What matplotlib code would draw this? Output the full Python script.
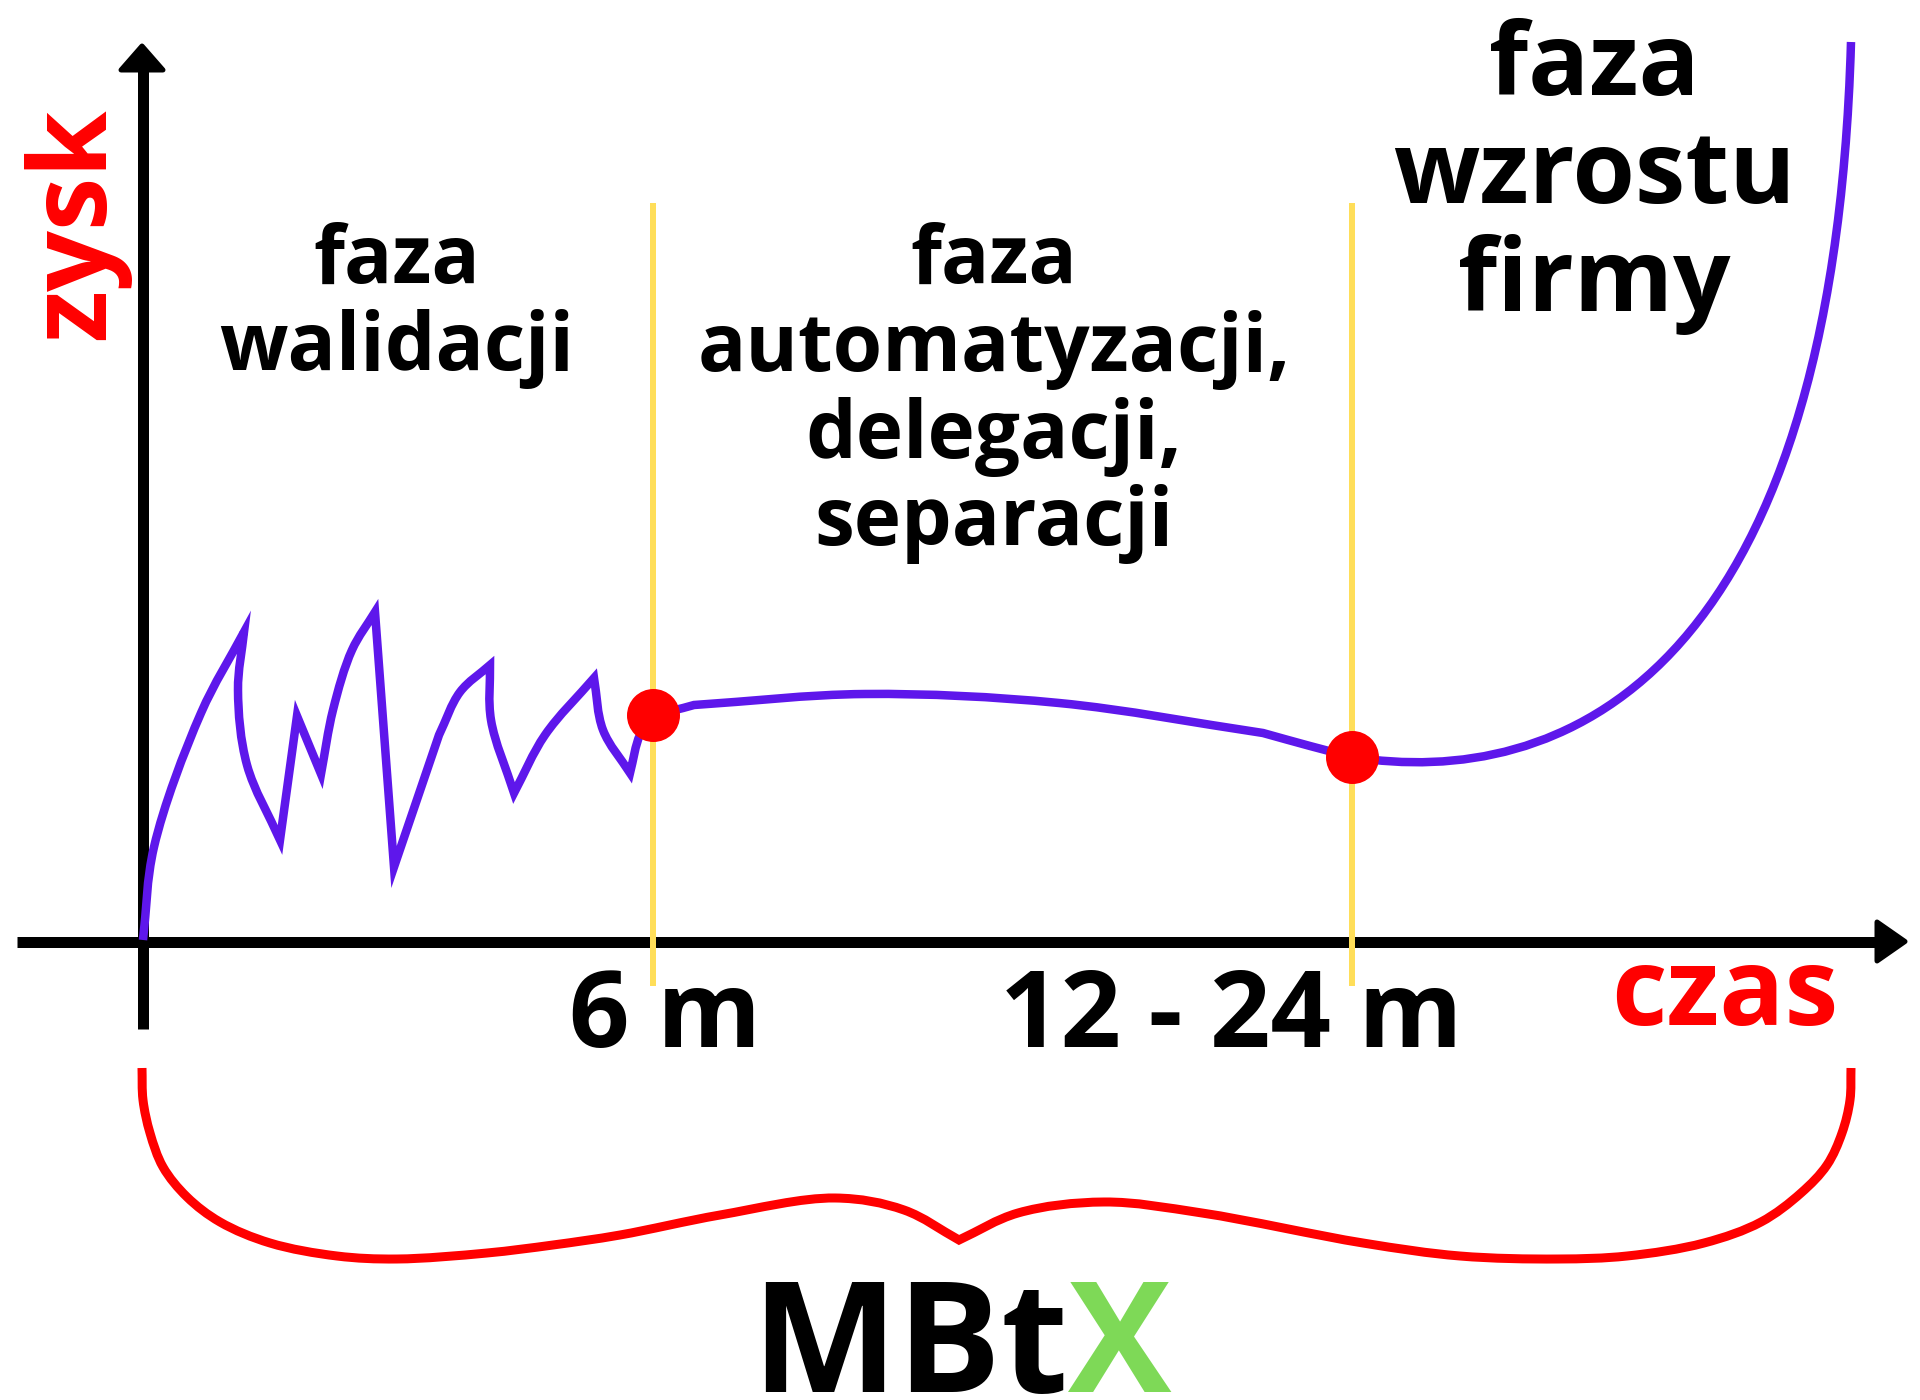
import numpy as np
import matplotlib.pyplot as plt
from matplotlib.path import Path
from matplotlib.patches import PathPatch, Polygon

plt.rcParams['font.family'] = ['Open Sans', 'DejaVu Sans']

# everything in pixel coords of the 1920x1400 canvas (y grows downward)
# profit curve, split where the line has sharp corners;
# lists go through the points, ('bezier', ...) pieces are start, 2 handles, end
profit_pieces = [
    [(143, 940), (154, 847), (201, 713), (244, 632)],
    [(244, 632), (238, 690), (247, 765), (280, 840)],
    [(280, 840), (297, 716)],
    [(297, 716), (321, 774)],
    [(321, 774), (333, 710), (352, 650), (375, 612)],
    [(375, 612), (394, 867)],
    [(394, 867), (439, 735)],
    [(439, 735), (460, 692), (490, 665)],
    [(490, 665), (491, 720), (514, 793)],
    [(514, 793), (545, 735), (594, 678)],
    [(594, 678), (603, 730), (630, 773)],
    [(630, 773), (640, 735), (653, 718), (694, 705)],
    [(694, 705), (865, 694), (1059, 703), (1263, 733)],
    [(1263, 733), (1310, 746), (1352, 757)],
    ('bezier', [(1352, 757), (1560, 790), (1833, 680), (1851, 42)]),
]

milestone_x = [653, 1352]
milestone_y = [715, 757]
phase_top, phase_bottom = 206, 983

brace_pieces = [
    [(142, 1068), (143, 1100), (150, 1133), (163, 1167), (187, 1197), (220, 1222),
     (270, 1243), (337, 1256), (397, 1259), (487, 1253), (553, 1245), (620, 1235),
     (720, 1215), (835, 1198), (904, 1210), (959, 1240)],
    [(959, 1240), (1018, 1213), (1104, 1202), (1202, 1213), (1363, 1243), (1460, 1256),
     (1558, 1259), (1627, 1256), (1704, 1243), (1761, 1222), (1801, 1193), (1827, 1165),
     (1842, 1133), (1850, 1100), (1851, 1068)],
]

# text blocks: lines, centre x, baselines, size in px
phase_labels = [
    (["faza", "walidacji"], 397, [283, 370], 80),
    (["faza", "automatyzacji,", "delegacji,", "separacji"], 994, [283, 370.5, 458, 545], 80),
    (["faza", "wzrostu", "firmy"], 1594, [95, 203, 311], 101),
]
tick_labels = ["6 m", "12 - 24 m"]
tick_x = [665, 1231]

BLUE = '#5e17eb'
RED = '#ff0000'
YELLOW = '#ffde59'
GREEN = '#7ed957'
PX = 0.72  # points per pixel at dpi 100


def catmull(points, alpha=0.5):
    # centripetal catmull-rom through the points, as cubic bezier path pieces
    p = np.array(points, float)
    ext = np.vstack([2 * p[0] - p[1], p, 2 * p[-1] - p[-2]])
    verts, codes = [p[0]], [Path.MOVETO]
    for i in range(1, len(ext) - 2):
        p0, p1, p2, p3 = ext[i - 1], ext[i], ext[i + 1], ext[i + 2]
        d0 = np.linalg.norm(p1 - p0) ** alpha
        d1 = np.linalg.norm(p2 - p1) ** alpha
        d2 = np.linalg.norm(p3 - p2) ** alpha
        m1 = (p1 - p0) / d0 - (p2 - p0) / (d0 + d1) + (p2 - p1) / d1
        m2 = (p2 - p1) / d1 - (p3 - p1) / (d1 + d2) + (p3 - p2) / d2
        verts += [p1 + m1 * d1 / 3, p2 - m2 * d1 / 3, p2]
        codes += [Path.CURVE4] * 3
    return verts, codes


def join(pieces):
    verts, codes = [], []
    for k, pc in enumerate(pieces):
        if isinstance(pc, tuple):
            v = [np.array(q, float) for q in pc[1]]
            c = [Path.MOVETO] + [Path.CURVE4] * 3
        else:
            v, c = catmull(pc)
        if k > 0:
            v, c = v[1:], c[1:]
        verts += v
        codes += c
    return Path(np.array(verts), codes)


fig = plt.figure(figsize=(19.2, 14), dpi=100)
ax = fig.add_axes([0, 0, 1, 1])
ax.set_xlim(0, 1920)
ax.set_ylim(1400, 0)
ax.axis('off')

# axes with arrows
ax.plot([143, 143], [1029, 70], color='black', lw=11 * PX, solid_capstyle='butt')
ax.plot([17, 1880], [941.5, 941.5], color='black', lw=11 * PX, solid_capstyle='butt')
ax.add_patch(Polygon([(142, 46), (121, 70), (163, 70)], closed=True, fc='black',
                     ec='black', lw=5 * PX, joinstyle='round'))
ax.add_patch(Polygon([(1905, 941.5), (1877, 922), (1877, 961)], closed=True, fc='black',
                     ec='black', lw=5 * PX, joinstyle='round'))

# phase borders
for x in milestone_x:
    ax.plot([x, x], [phase_top, phase_bottom], color=YELLOW, lw=6 * PX, zorder=3)

# profit curve
ax.add_patch(PathPatch(join(profit_pieces), fc='none', ec=BLUE, lw=8.5 * PX,
                       joinstyle='miter', capstyle='butt', zorder=4))
ax.scatter(milestone_x, milestone_y, s=(53 * PX) ** 2, color=RED, lw=0, zorder=5)

# curly brace under the axis
ax.add_patch(PathPatch(join(brace_pieces), fc='none', ec=RED, lw=9 * PX,
                       joinstyle='miter', capstyle='butt'))

# texts
for lines, cx, bases, size in phase_labels:
    for line, by in zip(lines, bases):
        ax.text(cx, by, line, ha='center', va='baseline', fontsize=size * PX,
                fontweight='bold', color='black')

for lab, x in zip(tick_labels, tick_x):
    ax.text(x, 1047, lab, ha='center', va='baseline', fontsize=106 * PX,
            fontweight='bold', color='black')

ax.text(1725, 1025, "czas", ha='center', va='baseline', fontsize=108 * PX,
        fontweight='bold', color=RED)
ax.text(104, 223.5, "zysk", rotation=90, rotation_mode='anchor', ha='center',
        va='baseline', fontsize=107 * PX, fontweight='bold', color=RED)

logo = ax.text(751, 1392, "MBt", ha='left', va='baseline', fontsize=155 * PX,
               fontweight='bold', color='black')
ax.annotate("X", xy=(1, 0), xycoords=logo, ha='left', va='bottom',
            fontsize=155 * PX, fontweight='bold', color=GREEN)

fig.savefig('out.png', dpi=100, facecolor='white')
